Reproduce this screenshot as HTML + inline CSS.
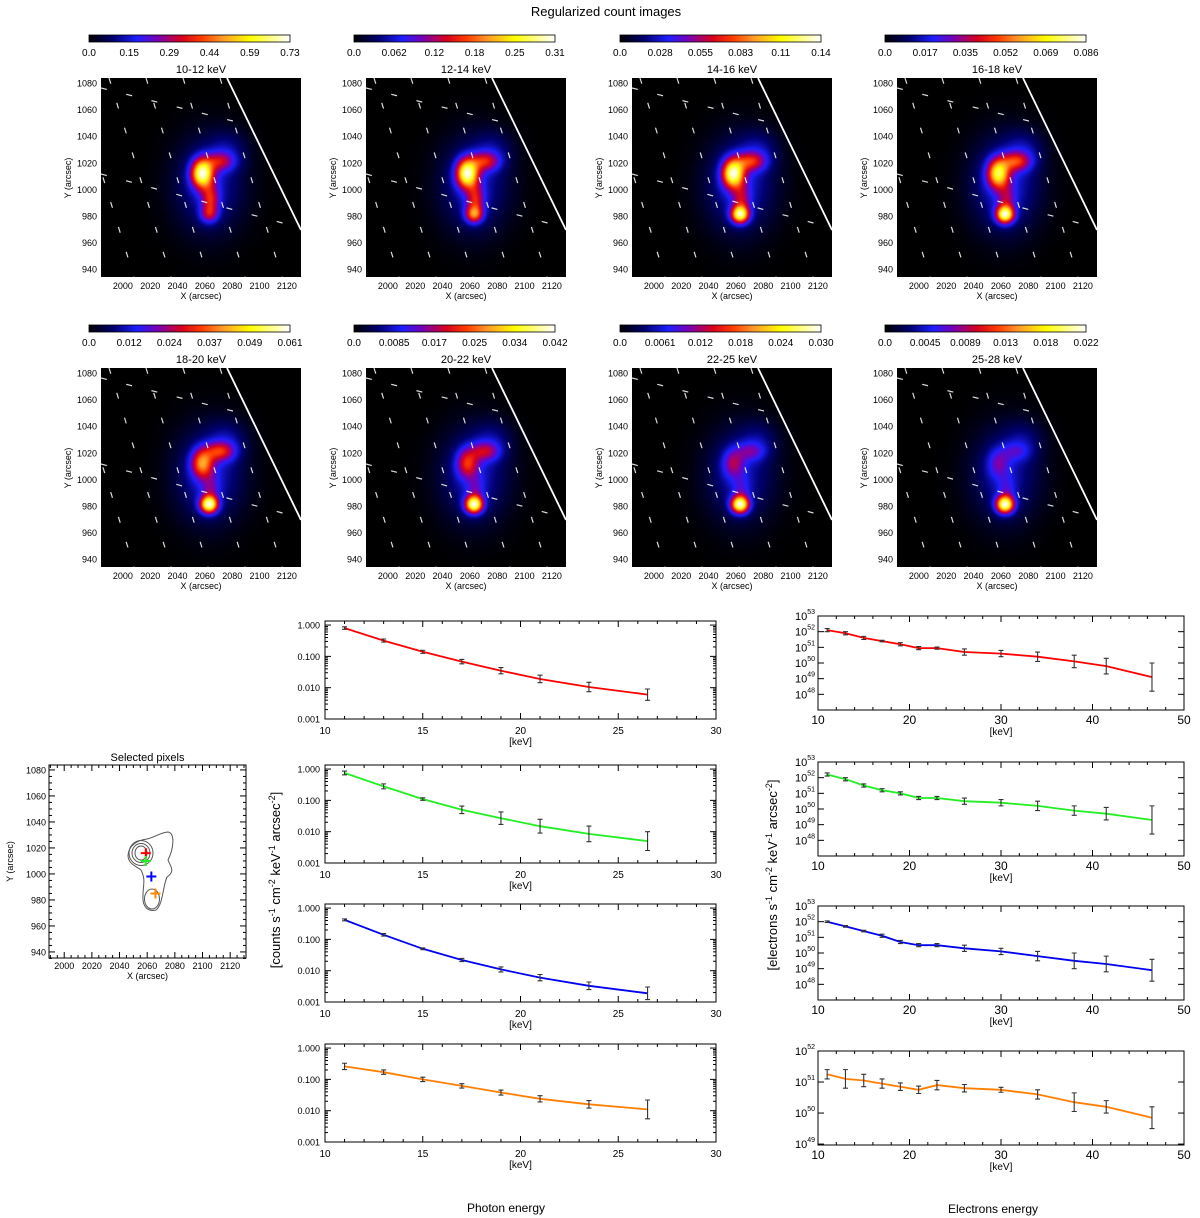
<!DOCTYPE html>
<html><head><meta charset="utf-8">
<style>
html,body{margin:0;padding:0;background:#fff;}
#root{position:relative;width:1200px;height:1218px;overflow:hidden;font-family:"Liberation Sans",sans-serif;}
canvas{position:absolute;}
svg{position:absolute;left:0;top:0;}
</style></head>
<body>
<div id="root">
<svg id="svg" width="1200" height="1218">
<text x="606" y="16" font-size="13" text-anchor="middle">Regularized count images</text>
<text x="506" y="1212" font-size="12" text-anchor="middle">Photon energy</text>
<text x="993" y="1213" font-size="12" text-anchor="middle">Electrons energy</text>
<text transform="translate(280,880) rotate(-90)" font-size="13" text-anchor="middle">[counts s<tspan dy="-5" font-size="9">-1</tspan><tspan dy="5"> cm</tspan><tspan dy="-5" font-size="9">-2</tspan><tspan dy="5"> keV</tspan><tspan dy="-5" font-size="9">-1</tspan><tspan dy="5"> arcsec</tspan><tspan dy="-5" font-size="9">-2</tspan><tspan dy="5">]</tspan></text>
<text transform="translate(777,875) rotate(-90)" font-size="13" text-anchor="middle">[electrons s<tspan dy="-5" font-size="9">-1</tspan><tspan dy="5"> cm</tspan><tspan dy="-5" font-size="9">-2</tspan><tspan dy="5"> keV</tspan><tspan dy="-5" font-size="9">-1</tspan><tspan dy="5"> arcsec</tspan><tspan dy="-5" font-size="9">-2</tspan><tspan dy="5">]</tspan></text>
</svg>
</div>
<script>
// ---------- data ----------
const bands = ["10-12 keV","12-14 keV","14-16 keV","16-18 keV","18-20 keV","20-22 keV","22-25 keV","25-28 keV"];
const cbLabels = [
 ["0.0","0.15","0.29","0.44","0.59","0.73"],
 ["0.0","0.062","0.12","0.18","0.25","0.31"],
 ["0.0","0.028","0.055","0.083","0.11","0.14"],
 ["0.0","0.017","0.035","0.052","0.069","0.086"],
 ["0.0","0.012","0.024","0.037","0.049","0.061"],
 ["0.0","0.0085","0.017","0.025","0.034","0.042"],
 ["0.0","0.0061","0.012","0.018","0.024","0.030"],
 ["0.0","0.0045","0.0089","0.013","0.018","0.022"]];
const topAmp  = [1.0,1.0,0.9,0.72,0.55,0.42,0.3,0.22];
const botAmp  = [0.3,0.55,0.85,0.85,0.9,0.95,1.0,1.0];
const armAmp  = [0.36,0.42,0.4,0.4,0.4,0.32,0.22,0.16];
const midAmp  = [0.42,0.4,0.28,0.22,0.18,0.16,0.14,0.14];
const haloAmp = [0.24,0.24,0.24,0.24,0.23,0.22,0.21,0.21];

const phE = [11,13,15,17,19,21,23.5,26.5];
const phRed = [0.8,0.32,0.14,0.068,0.035,0.019,0.0105,0.006];
const phGreen = [0.75,0.28,0.11,0.05,0.027,0.015,0.0085,0.005];
const phBlue = [0.42,0.14,0.05,0.022,0.011,0.006,0.0033,0.0019];
const phOrange = [0.26,0.17,0.1,0.062,0.038,0.024,0.016,0.011];
const phErrRed = [0.04,0.05,0.05,0.07,0.1,0.12,0.15,0.18];
const phErrGreen = [0.06,0.08,0.04,0.12,0.2,0.22,0.25,0.3];
const phErrBlue = [0.03,0.04,0.03,0.05,0.08,0.1,0.12,0.2];
const phErrOrange = [0.1,0.07,0.07,0.07,0.08,0.1,0.12,0.3];

const elE = [11,13,15,17,19,21,23,26,30,34,38,41.5,46.5];
const elRed = [52.1,51.9,51.6,51.4,51.2,50.95,50.95,50.7,50.6,50.4,50.1,49.8,49.1];
const elGreen = [52.2,51.9,51.5,51.2,51.0,50.7,50.7,50.5,50.4,50.2,49.9,49.7,49.3];
const elBlue = [52.0,51.7,51.4,51.1,50.7,50.5,50.5,50.3,50.1,49.8,49.5,49.3,48.9];
const elOrange = [51.25,51.1,51.05,50.95,50.85,50.75,50.9,50.8,50.75,50.6,50.35,50.2,49.85];
const elErrRed = [0.1,0.1,0.1,0.05,0.1,0.1,0.07,0.2,0.2,0.3,0.4,0.5,0.9];
const elErrGreen = [0.1,0.1,0.1,0.1,0.1,0.1,0.1,0.2,0.2,0.3,0.3,0.4,0.9];
const elErrBlue = [0.05,0.05,0.05,0.1,0.1,0.1,0.1,0.2,0.2,0.3,0.5,0.5,0.7];
const elErrOrange = [0.15,0.3,0.2,0.15,0.12,0.12,0.15,0.12,0.08,0.15,0.3,0.2,0.35];

const imgTicksX = [2000,2020,2040,2060,2080,2100,2120];
const imgTicksY = [940,960,980,1000,1020,1040,1060,1080];

// ---------- helpers ----------
const svg = document.getElementById('svg');
const NS = "http://www.w3.org/2000/svg";
function mk(tag, attrs, name, parent){
  const el = document.createElementNS(NS, tag);
  for (const k in attrs) el.setAttribute(k, attrs[k]);
  
  
  (parent||svg).appendChild(el);
  return el;
}
function txt(x,y,s,size,anchor,name,parent){
  const t = mk('text',{x:x,y:y,'font-size':size,'text-anchor':anchor||'middle'},name,parent);
  t.textContent = s; return t;
}
const stops = [[0,0,0,0],[0.12,0,0,110],[0.24,30,30,255],[0.34,120,0,180],[0.46,215,0,30],[0.56,255,60,0],[0.66,255,150,40],[0.8,255,255,0],[1,255,255,255]];
function cmap(v){
  v=Math.max(0,Math.min(1,v));
  for(let i=1;i<stops.length;i++){
    if(v<=stops[i][0]){const a=stops[i-1],b=stops[i],t=(v-a[0])/(b[0]-a[0]);
      return [a[1]+t*(b[1]-a[1]),a[2]+t*(b[2]-a[2]),a[3]+t*(b[3]-a[3])];}
  }
  return [255,255,255];
}
const defs = mk('defs',{},'defs');
const grad = mk('linearGradient',{id:'cbgrad',x1:0,x2:1,y1:0,y2:0},'colorbar-gradient',defs);
stops.forEach(s=>{mk('stop',{offset:s[0],'stop-color':`rgb(${s[1]},${s[2]},${s[3]})`},'gradient-stop',grad);});

// ---------- image panels ----------
const root = document.getElementById('root');
function g2(x,y,cx,cy,sx,sy){return Math.exp(-((x-cx)*(x-cx)/(2*sx*sx)+(y-cy)*(y-cy)/(2*sy*sy)));}
bands.forEach((band,i)=>{
  const col=i%4,row=Math.floor(i/4);
  const ix=Math.round(101+col*265.3), iy=78+row*290;
  const W=200,H=199;
  const cv=document.createElement('canvas');
  cv.width=W;cv.height=H;cv.style.left=ix+'px';cv.style.top=iy+'px';
  
  
  root.insertBefore(cv,svg);
  const ctx=cv.getContext('2d');const im=ctx.createImageData(W,H);
  const f=new Float32Array(W*H);let mx=0;
  for(let j=0;j<H;j++)for(let k=0;k<W;k++){
    const x=1984+(k+0.5)/1.367,y=1083.8-(j+0.5)/1.329;
    let v=topAmp[i]*g2(x,y,2058,1012,5.5,7.5)+botAmp[i]*g2(x,y,2063,981,4.5,4.5)
      +armAmp[i]*g2(x,y,2071,1021,7.5,5)+midAmp[i]*g2(x,y,2064,992,4.5,8)
      +haloAmp[i]*g2(x,y,2063,1003,17,24)+0.5*haloAmp[i]*g2(x,y,2077,1030,10,10);
    f[j*W+k]=v;if(v>mx)mx=v;}
  for(let p=0;p<W*H;p++){const c=cmap(f[p]/mx);im.data[p*4]=c[0];im.data[p*4+1]=c[1];im.data[p*4+2]=c[2];im.data[p*4+3]=255;}
  ctx.putImageData(im,0,0);
  const g=mk('g',{},'image-panel-'+(i+1));
  const cp=mk('clipPath',{id:'clip'+i},'grid-clip',defs);
  mk('polygon',{points:`${ix},${iy} ${ix+126},${iy} ${ix+200},${iy+152} ${ix+200},${iy+199} ${ix},${iy+199}`},'grid-clip-shape',cp);
  const gg=mk('g',{'clip-path':`url(#clip${i})`,stroke:'#ddd','stroke-width':1.2,'stroke-dasharray':'6 20',fill:'none'},'solar-grid',g);
  for(let m=-2;m<7;m++){const x0=ix+8+m*37;mk('line',{x1:x0,y1:iy,x2:x0+62,y2:iy+199},'grid-meridian',gg);}
  mk('line',{x1:ix,y1:iy+96,x2:ix+200,y2:iy+150},'grid-parallel',gg);
  mk('line',{x1:ix,y1:iy+10,x2:ix+200,y2:iy+60},'grid-parallel',gg);
  mk('line',{x1:ix+126,y1:iy,x2:ix+200,y2:iy+152,stroke:'#fff','stroke-width':1.8},'solar-limb',g);
  mk('rect',{x:ix-12,y:iy-43,width:201,height:7,fill:'url(#cbgrad)',stroke:'#000','stroke-width':0.8},'colorbar',g);
  cbLabels[i].forEach((l,n)=>{txt(ix-12+n*40.2,iy-22,l,10,'middle','colorbar-tick-label',g);});
  txt(ix+100,iy-5,band,11,'middle','panel-title',g);
  imgTicksY.forEach(v=>{txt(ix-4,iy+(1083.8-v)*1.329+3.5,v,9,'end','y-tick-label',g);});
  imgTicksX.forEach(v=>{txt(ix+(v-1984)*1.367,iy+211,v,9,'middle','x-tick-label',g);});
  txt(ix+100,iy+221,'X (arcsec)',9,'middle','x-axis-title',g);
  const yt=txt(0,0,'Y (arcsec)',9,'middle','y-axis-title',g);yt.setAttribute('transform',`translate(${ix-30},${iy+100}) rotate(-90)`);
});

// ---------- selected pixels ----------
(function(){
  const g=mk('g',{},'selected-pixels-panel');
  const L=49,T=765,R=246,B=958;
  const sx=x=>L+(x-1989)*1.383, sy=y=>T+(1083.8-y)*1.3;
  mk('rect',{x:L,y:T,width:R-L,height:B-T,fill:'none',stroke:'#000','stroke-width':1},'selected-frame',g);
  for(let v=1990;v<=2130;v+=5){const x=sx(v),len=v%20===0?6:3;mk('line',{x1:x,y1:B,x2:x,y2:B-len,stroke:'#000'},'x-tick',g);mk('line',{x1:x,y1:T,x2:x,y2:T+len,stroke:'#000'},'x-tick',g);}
  for(let v=935;v<=1080;v+=5){const y=sy(v),len=v%20===0?6:3;mk('line',{x1:L,y1:y,x2:L+len,y2:y,stroke:'#000'},'y-tick',g);mk('line',{x1:R,y1:y,x2:R-len,y2:y,stroke:'#000'},'y-tick',g);}
  imgTicksX.forEach(v=>txt(sx(v),B+11,v,9,'middle','x-tick-label',g));
  imgTicksY.forEach(v=>txt(L-3,sy(v)+3.5,v,9,'end','y-tick-label',g));
  txt((L+R)/2,B+21,'X (arcsec)',9,'middle','x-axis-title',g);
  const yt=txt(0,0,'Y (arcsec)',9,'middle','y-axis-title',g);yt.setAttribute('transform',`translate(13,${(T+B)/2}) rotate(-90)`);
  txt((L+R)/2,761,'Selected pixels',11,'middle','selected-title',g);
  const cg=mk('g',{fill:'none',stroke:'#555','stroke-width':1},'contours',g);
  mk('path',{d:'M128,855 C129,845 138,840 147,839 C155,837 162,832 168,832 C175,833 174,848 168,860 C170,866 176,871 167,877 C163,885 163,905 156,910 C148,912 142,907 143,895 C143,885 146,880 141,870 C136,866 128,864 128,855 Z'},'outer-contour',cg);
  mk('ellipse',{cx:141,cy:853,rx:12,ry:12.5},'contour',cg);
  mk('ellipse',{cx:141,cy:853,rx:9,ry:9.5},'contour',cg);
  mk('ellipse',{cx:141,cy:853,rx:6,ry:7},'contour',cg);
  mk('ellipse',{cx:152,cy:899,rx:7.5,ry:10},'contour',cg);
  const markers=[[2059,1016,'#f00','red'],[2059,1010,'#2e2','green'],[2063,998,'#00f','blue'],[2066,985,'#f80','orange']];
  markers.forEach(m=>{const x=sx(m[0]),y=sy(m[1]);
    mk('path',{d:`M${x-5},${y}H${x+5}M${x},${y-5}V${y+5}`,stroke:m[2],'stroke-width':2},'pixel-marker-'+m[3],g);});
})();

// ---------- spectra ----------
function spectrum(opt){
  const g=mk('g',{},opt.name);
  const {L,R,T,B,xmin,xmax,ymin,ymax}=opt;
  const sx=x=>L+(x-xmin)/(xmax-xmin)*(R-L);
  const sy=v=>B-(v-ymin)/(ymax-ymin)*(B-T);
  mk('rect',{x:L,y:T,width:R-L,height:B-T,fill:'none',stroke:'#000','stroke-width':1},'plot-frame',g);
  for(let d=Math.ceil(ymin);d<=Math.floor(ymax);d++){
    const y=sy(d);
    mk('line',{x1:L,y1:y,x2:L+6,y2:y,stroke:'#000'},'y-major-tick',g);
    mk('line',{x1:R,y1:y,x2:R-6,y2:y,stroke:'#000'},'y-major-tick',g);
    if(opt.minor){for(let m=2;m<10;m++){const yy=sy(d+Math.log10(m));if(yy<T)break;
      mk('line',{x1:L,y1:yy,x2:L+3,y2:yy,stroke:'#000'},'y-minor-tick',g);
      mk('line',{x1:R,y1:yy,x2:R-3,y2:yy,stroke:'#000'},'y-minor-tick',g);}}
    if(opt.photon){txt(L-5,y+3.5,Math.pow(10,d).toFixed(3),9,'end','y-tick-label',g);}
    else if(!(opt.skipBottom && d===Math.ceil(ymin))){const t=txt(L-3,y+4,'10',11,'end','y-tick-label',g);
      const ts=document.createElementNS(NS,'tspan');ts.setAttribute('dy','-6');ts.setAttribute('font-size','7');ts.textContent=d;t.appendChild(ts);}
  }
  for(let x=xmin;x<=xmax;x+=opt.minorStep){const px=sx(x);const major=Math.abs(x%opt.majorStep)<1e-6;
    const len=major?6:3;
    mk('line',{x1:px,y1:B,x2:px,y2:B-len,stroke:'#000'},'x-tick',g);
    mk('line',{x1:px,y1:T,x2:px,y2:T+len,stroke:'#000'},'x-tick',g);
    if(major)txt(px,B+opt.xlabOff,x,opt.photon?10:12,'middle','x-tick-label',g);}
  txt((L+R)/2,B+opt.xlabOff+11,'[keV]',10,'middle','x-axis-title',g);
  const pts=opt.x.map((x,k)=>`${sx(x).toFixed(1)},${sy(opt.photon?Math.log10(opt.y[k]):opt.y[k]).toFixed(1)}`).join(' ');
  mk('polyline',{points:pts,fill:'none',stroke:opt.color,'stroke-width':1.8},'spectrum-line',g);
  opt.x.forEach((x,k)=>{const lv=opt.photon?Math.log10(opt.y[k]):opt.y[k];const e=opt.err[k];
    const px=sx(x),y1=sy(lv+e),y2=sy(lv-e);
    mk('path',{d:`M${px},${y1}V${y2}M${px-2.5},${y1}H${px+2.5}M${px-2.5},${y2}H${px+2.5}`,stroke:'#333','stroke-width':1.1,fill:'none'},'error-bar',g);});
}
const phSets=[[phRed,phErrRed,'#ff0000','red'],[phGreen,phErrGreen,'#22ee22','green'],[phBlue,phErrBlue,'#0000ee','blue'],[phOrange,phErrOrange,'#ff8000','orange']];
const phTops=[621,765,904,1044];
phSets.forEach((s,i)=>{const T=phTops[i];spectrum({name:'photon-spectrum-'+s[3],L:325,R:716,T:T,B:T+98,xmin:10,xmax:30,ymin:-3,ymax:0.13,
  minor:true,photon:true,minorStep:1,majorStep:5,xlabOff:15,x:phE,y:s[0],err:s[1],color:s[2]});});
const elSets=[[elRed,elErrRed,'#ff0000','red'],[elGreen,elErrGreen,'#22ee22','green'],[elBlue,elErrBlue,'#0000ee','blue'],[elOrange,elErrOrange,'#ff8000','orange']];
const elTops=[616,762,906,1051];
elSets.forEach((s,i)=>{const T=elTops[i];spectrum({name:'electron-spectrum-'+s[3],L:818,R:1184,T:T,B:T+94,xmin:10,xmax:50,
  ymin:i===3?48.97:47,ymax:i===3?52:53,skipBottom:i!==3,minor:false,photon:false,minorStep:2,majorStep:10,xlabOff:14,x:elE,y:s[0],err:s[1],color:s[2]});});
</script>
</body></html>
